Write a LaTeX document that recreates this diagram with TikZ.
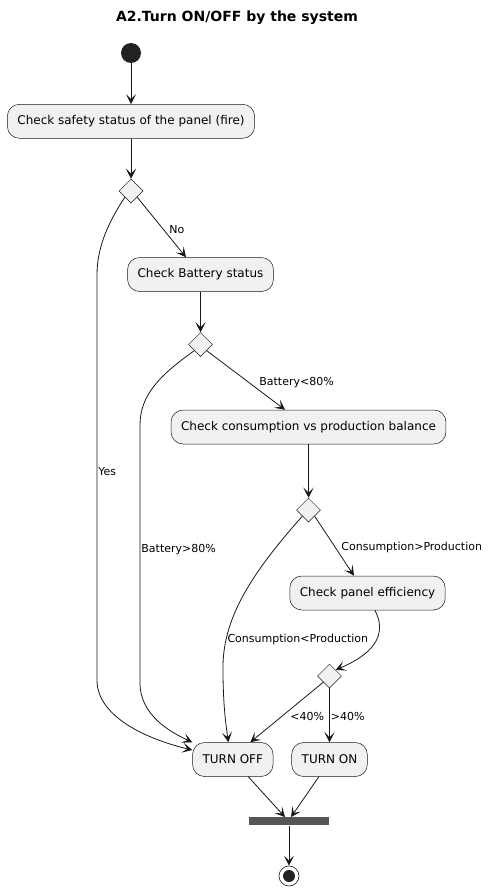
\documentclass[tikz,border=0pt]{standalone}
\usepackage{fontspec}
\setmainfont{DejaVu Sans}
\usetikzlibrary{shapes.geometric,arrows.meta}
\definecolor{boxfill}{HTML}{F1F1F1}
\definecolor{boxline}{HTML}{181818}
\definecolor{barfill}{HTML}{555555}
\definecolor{dotfill}{HTML}{222222}
\tikzset{
    flow/.style={draw=boxline, line width=0.8pt, -{Stealth[length=10pt, width=10pt, inset=5pt]}},
    lbl/.style={font=\fontsize{11}{13}\selectfont, inner sep=1pt},
}

\begin{document}
\begin{tikzpicture}[x=1pt, y=-1pt]
        \useasboundingbox (0,0) rectangle (488,891);
        \node [font=\fontsize{14}{16}\selectfont\bfseries] (title) at (237,18) {A2.Turn ON/OFF by the system};
        % start, join bar and end
        \node [circle, fill=dotfill, minimum size=20pt, inner sep=0] (start) at (131,53) {};
        \node [rectangle, fill=barfill, minimum width=80pt, minimum height=8pt, inner sep=0] (bar) at (289,821.3) {};
        \node [circle, draw=boxline, line width=0.6pt, fill=white, minimum size=20pt, inner sep=0] (stop) at (289,876) {};
        \fill [dotfill] (stop) circle (6);
        \begin{scope}[every node/.style={draw=boxline, line width=0.5pt, fill=boxfill, rounded corners=12pt, minimum height=34pt, inner xsep=10pt, font=\fontsize{12}{14}\selectfont}]
            \node (safety) at (131,121.3) {Check safety status of the panel (fire)};
            \node (battery) at (200.5,274.5) {Check Battery status};
            \node (balance) at (308.5,427) {Check consumption vs production balance};
            \node (eff) at (367.5,593) {Check panel efficiency};
            \node (off) at (232.8,759.5) {TURN OFF};
            \node (on) at (329.5,759.5) {TURN ON};
        \end{scope}
        \begin{scope}[every node/.style={diamond, draw=boxline, line width=0.5pt, fill=boxfill, minimum width=24pt, minimum height=24pt, inner sep=0}]
            \node (d1) at (131,191) {};
            \node (d2) at (200.5,344.5) {};
            \node (d3) at (308.5,510) {};
            \node (d4) at (329.5,676) {};
        \end{scope}
        % connectors
        \path (start) edge [flow] (safety);
        \path (safety) edge [flow] (d1);
        \path (d1.south east) edge [flow] node [lbl, pos=0.63, anchor=south west] {No} ([xshift=-14.5pt]battery.north);
        \draw [flow] (d1.south west) .. controls (110,220) and (97,245) .. (97,275)
            -- node [lbl, pos=0.486, anchor=west] {Yes} (97,680)
            .. controls (97,718) and (150,740) .. ([yshift=9.5pt]off.west);
        \path (battery) edge [flow] (d2);
        \path (d2.south east) edge [flow] node [lbl, pos=0.655, anchor=south west] {Battery<80\%} ([xshift=-23.5pt]balance.north);
        \draw [flow] (d2.south west) .. controls (160,375) and (140,395) .. (140,425)
            -- node [lbl, pos=0.484, anchor=west] {Battery>80\%} (140,683)
            .. controls (140,715) and (170,732) .. (off.north west);
        \path (balance) edge [flow] (d3);
        \path (d3.south east) edge [flow] node [lbl, pos=0.645, anchor=south west] {Consumption>Production} ([xshift=-13.5pt]eff.north);
        \draw [flow] (d3.south west) .. controls (250,575) and (222,620) .. node [lbl, pos=0.79, anchor=west] {Consumption<Production} (223,670)
            .. controls (223,705) and (226,725) .. ([xshift=-4.5pt]off.north);
        \draw [flow] ([xshift=7.5pt]eff.south) .. controls (386,632) and (378,652) .. (d4.north east);
        \path (d4.south west) edge [flow] node [lbl, pos=0.567, anchor=west, xshift=7pt] {<40\%} ([xshift=17.5pt]off.north);
        \path (d4) edge [flow] node [lbl, pos=0.52, anchor=west] {>40\%} (on);
        \path ([xshift=15.5pt]off.south) edge [flow] ([xshift=-4pt]bar.north);
        \path ([xshift=-10.7pt]on.south) edge [flow] ([xshift=2pt]bar.north);
        \path (bar) edge [flow] (stop);
    \end{tikzpicture}
\end{document}
